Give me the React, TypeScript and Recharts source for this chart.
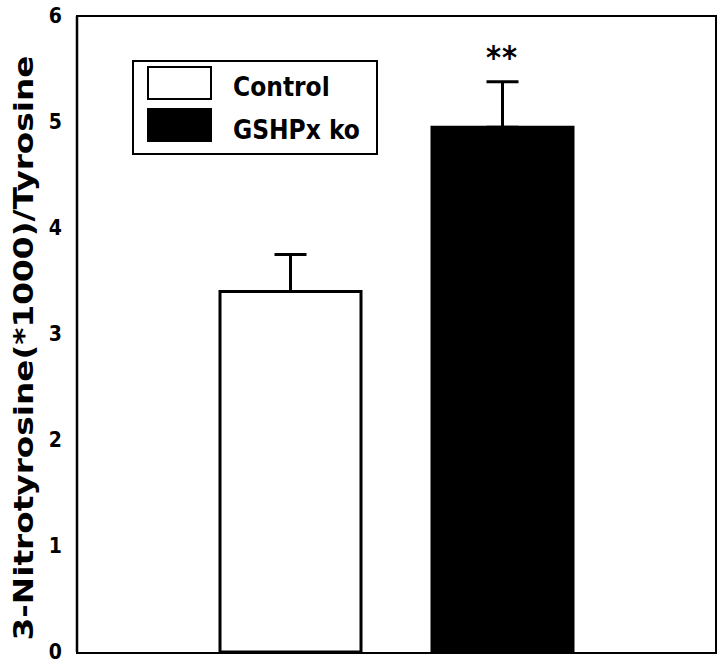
import { Bar, BarChart, Cell, ErrorBar, ReferenceDot, XAxis, YAxis } from 'recharts';

const categories = ['Control', 'GSHPx ko'];
const means = [3.4, 4.95];
const errors = [0.35, 0.43];
const significance = ['', '**'];
const fills = ['#ffffff', '#000000'];
const yTicks = [0, 1, 2, 3, 4, 5, 6];
const yTitle = '3-Nitrotyrosine(*1000)/Tyrosine';

const FONT = '"DejaVu Sans Condensed", "DejaVu Sans", sans-serif';

const data = categories.map((name, i) => ({
  name,
  value: means[i],
  err: [0, errors[i]],
}));

function LegendBox() {
  return (
    <svg width={246} height={96} style={{ display: 'block' }}>
      <rect x={1} y={1} width={244} height={93} fill="#fff" stroke="#000" strokeWidth={2} />
      {categories.map((name, i) => (
        <g key={name}>
          <rect x={16} y={7 + i * 42} width={63} height={32} fill={fills[i]} stroke="#000" strokeWidth={2} />
          <text x={101} y={36 + i * 43} fontFamily={FONT} fontWeight="bold" fontSize={26} fill="#000">
            {name}
          </text>
        </g>
      ))}
    </svg>
  );
}

function YTitle() {
  return (
    <text
      x={23}
      y={348}
      transform="rotate(-90, 23, 348)"
      textAnchor="middle"
      dominantBaseline="central"
      fontFamily={FONT}
      fontWeight="bold"
      fontSize={27}
      textLength={585}
      lengthAdjust="spacingAndGlyphs"
      fill="#000"
    >
      {yTitle}
    </text>
  );
}

function YTick({ x, y, payload }: any) {
  return (
    <text x={x} y={y} dy={7} textAnchor="end" fontFamily={FONT} fontWeight="bold" fontSize={21} fill="#000">
      {payload.value}
    </text>
  );
}

export default function App() {
  const axisLine = { stroke: '#000', strokeWidth: 2.5 };
  return (
    <div style={{ position: 'absolute', left: 0, top: 0, width: 720, height: 664, background: '#fff' }}>
      <BarChart width={720} height={664} data={data} margin={{ top: 16, right: 5, bottom: 12, left: 0 }}>
        <XAxis
          dataKey="name"
          tick={false}
          tickLine={false}
          height={0}
          padding={{ left: 107, right: 107 }}
          axisLine={axisLine}
        />
        <YAxis
          domain={[0, 6]}
          ticks={yTicks}
          width={77}
          tickLine={false}
          tickSize={0}
          tickMargin={15}
          axisLine={axisLine}
          tick={<YTick />}
          label={{ content: () => <YTitle /> }}
        />
        <Bar dataKey="value" barSize={141} stroke="#000" strokeWidth={3} isAnimationActive={false}>
          {data.map((d, i) => (
            <Cell key={d.name} fill={fills[i]} />
          ))}
          <ErrorBar dataKey="err" width={16} strokeWidth={3} stroke="#000" direction="y" isAnimationActive={false} />
        </Bar>
        {categories.map((name, i) =>
          significance[i] ? (
            <ReferenceDot
              key={name}
              x={name}
              y={means[i] + errors[i]}
              r={0}
              stroke="none"
              ifOverflow="visible"
              label={{
                content: ({ viewBox }: any) => (
                  <text
                    x={viewBox.x + viewBox.width / 2}
                    y={viewBox.y - 14}
                    textAnchor="middle"
                    fontFamily={FONT}
                    fontWeight="bold"
                    fontSize={32}
                    letterSpacing={1}
                    fill="#000"
                  >
                    {significance[i]}
                  </text>
                ),
              }}
            />
          ) : null
        )}
      </BarChart>
      {/* plot frame */}
      <div
        style={{
          position: 'absolute',
          left: 76,
          top: 15,
          width: 637,
          height: 635,
          border: '2.5px solid #000',
          pointerEvents: 'none',
        }}
      />
      <div style={{ position: 'absolute', left: 132, top: 60 }}>
        <LegendBox />
      </div>
    </div>
  );
}
